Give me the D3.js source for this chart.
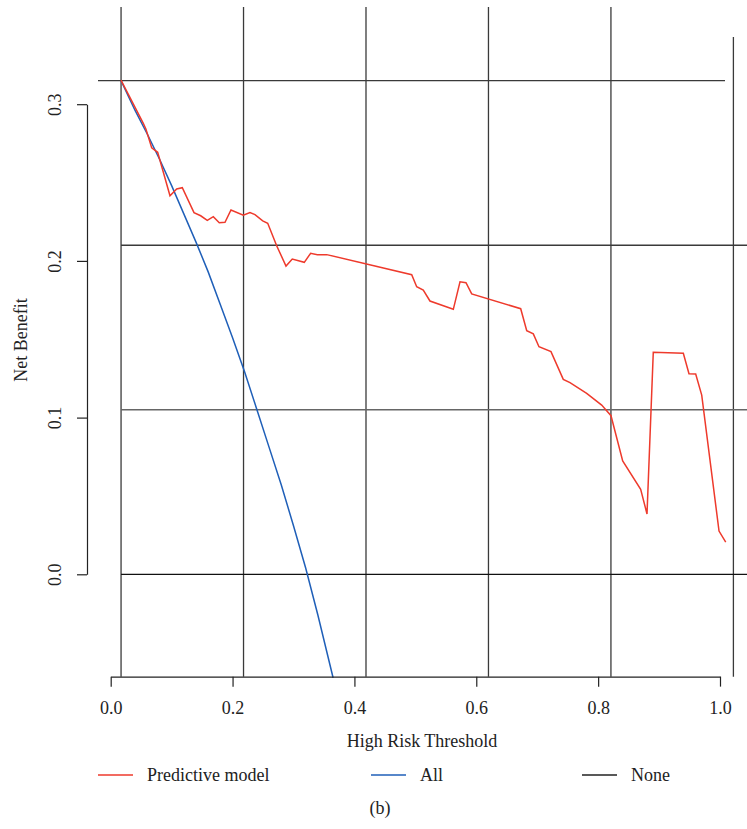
<!DOCTYPE html>
<html>
<head>
<meta charset="utf-8">
<script src="https://cdn.jsdelivr.net/npm/d3@7"></script>
<style>
  html, body { margin: 0; padding: 0; background: #fff; }
  svg { display: block; }
  text { font-family: "Liberation Serif", "DejaVu Serif", serif; fill: #222; }
</style>
</head>
<body>
<svg id="chart" width="747" height="829"></svg>
<script>
// ---- data ----
const modelThreshold = [0.0169,0.0535,0.0579,0.0673,0.0771,0.0973,0.1083,0.1175,0.1367,0.1477,0.1585,0.1684,0.1782,0.1876,0.1974,0.2176,0.2286,0.2368,0.2495,0.2577,0.2724,0.2877,0.2980,0.3177,0.3282,0.3391,0.3545,0.4940,0.5022,0.5130,0.5240,0.5623,0.5733,0.5831,0.5925,0.6729,0.6828,0.6936,0.7029,0.7226,0.7428,0.7538,0.7812,0.8058,0.8211,0.8403,0.8698,0.8802,0.8905,0.9398,0.9491,0.9601,0.9700,0.9984,1.0094];
const modelBenefit  = [0.3154,0.2878,0.2840,0.2722,0.2693,0.2416,0.2459,0.2467,0.2308,0.2288,0.2259,0.2282,0.2244,0.2246,0.2325,0.2291,0.2308,0.2295,0.2255,0.2240,0.2097,0.1967,0.2012,0.1991,0.2049,0.2040,0.2040,0.1912,0.1835,0.1814,0.1744,0.1691,0.1867,0.1861,0.1789,0.1695,0.1555,0.1534,0.1452,0.1421,0.1244,0.1223,0.1155,0.1080,0.1012,0.0723,0.0542,0.0385,0.1417,0.1410,0.1280,0.1278,0.1144,0.0276,0.0206];
const allThreshold = [0.017,0.04,0.06,0.08,0.10,0.12,0.14,0.16,0.18,0.20,0.22,0.24,0.26,0.28,0.30,0.32,0.34,0.365];
const allBenefit   = [0.315,0.296,0.281,0.265,0.248,0.230,0.212,0.193,0.172,0.151,0.129,0.105,0.081,0.057,0.031,0.004,-0.026,-0.066];
const gridX = [0.017,0.218,0.419,0.620,0.821,1.022];
const gridY = [0,0.105,0.21,0.315];
const xTicks = [0,0.2,0.4,0.6,0.8,1.0];
const yTicks = [0,0.1,0.2,0.3];
const legendLabels = ["Predictive model","All","None"];
const legendColors = ["#ee3a2c","#1f5fb8","#222222"];
const xTitle = "High Risk Threshold";
const yTitle = "Net Benefit";
const caption = "(b)";

const FS = "18px";

// ---- scales ----
const svg = d3.select("#chart");
const x = d3.scaleLinear().domain([0,1]).range([110.7,720]);
const y = d3.scaleLinear().domain([0,0.3]).range([574.3,104.2]);
const yTop = -0.0653;   // bottom of plot region (x axis line)

// ---- grid / box lines ----
const g = svg.append("g");
g.selectAll("line.vx").data(gridX).join("line")
  .attr("x1", d => x(d)).attr("x2", d => x(d))
  .attr("y1", (d,i) => i === gridX.length-1 ? 37 : 7)
  .attr("y2", y(yTop))
  .attr("stroke", "#3a3a3a").attr("stroke-width", 1.3);
g.selectAll("line.hy").data(gridY).join("line")
  .attr("x1", (d,i) => i === gridY.length-1 ? 98 : x(gridX[0]))
  .attr("x2", (d,i) => i === gridY.length-1 ? 725 : 747)
  .attr("y1", d => y(d)).attr("y2", d => y(d))
  .attr("stroke", (d,i) => i === 0 ? "#111" : (i === 1 ? "#666" : "#3a3a3a"))
  .attr("stroke-width", 1.3);

// ---- curves ----
const line = d3.line().x(d => x(d[0])).y(d => y(d[1]));
svg.append("path")
  .datum(allThreshold.map((t,i) => [t, allBenefit[i]]))
  .attr("d", line).attr("fill","none")
  .attr("stroke", legendColors[1]).attr("stroke-width", 1.5);
svg.append("path")
  .datum(modelThreshold.map((t,i) => [t, modelBenefit[i]]))
  .attr("d", line).attr("fill","none")
  .attr("stroke", legendColors[0]).attr("stroke-width", 1.5);

// ---- axes ----
const xAxis = d3.axisBottom(x).tickValues(xTicks).tickSize(10).tickSizeOuter(0)
  .tickFormat(d3.format(".1f")).tickPadding(15);
const gx = svg.append("g").attr("transform", `translate(0,${y(yTop)})`).call(xAxis);
gx.selectAll("path,line").attr("stroke","#222").attr("stroke-width",1.2);
gx.selectAll("text").style("font-size",FS).attr("fill","#222");

const yAxis = d3.axisLeft(y).tickValues(yTicks).tickSize(10).tickSizeOuter(0)
  .tickFormat(d3.format(".1f"));
const gy = svg.append("g").attr("transform","translate(87,0)").call(yAxis);
gy.selectAll("path,line").attr("stroke","#222").attr("stroke-width",1.2);
gy.selectAll("text")
  .attr("x",0).attr("dy",null).attr("y",0)
  .attr("transform","translate(-32,0) rotate(-90)")
  .attr("text-anchor","middle").attr("dominant-baseline","central")
  .style("font-size",FS).attr("fill","#222");
svg.selectAll(".domain").attr("fill","none");

// ---- titles ----
svg.append("text").attr("x", 422).attr("y", 747)
  .attr("text-anchor","middle").style("font-size",FS).text(xTitle);
svg.append("text").attr("transform","translate(21,340) rotate(-90)")
  .attr("text-anchor","middle").attr("dominant-baseline","central")
  .style("font-size",FS).text(yTitle);

// ---- legend ----
const legendX = [98, 371, 582];
const lg = svg.append("g").selectAll("g").data(legendLabels).join("g")
  .attr("transform", (d,i) => `translate(${legendX[i]},775)`);
lg.append("line").attr("x1",0).attr("x2",35).attr("y1",0).attr("y2",0)
  .attr("stroke",(d,i) => legendColors[i]).attr("stroke-width",1.5);
lg.append("text").attr("x",49).attr("y",0).attr("dominant-baseline","central")
  .style("font-size",FS).text(d => d);

// ---- caption ----
svg.append("text").attr("x", 380).attr("y", 814)
  .attr("text-anchor","middle").style("font-size",FS).text(caption);
</script>
</body>
</html>
